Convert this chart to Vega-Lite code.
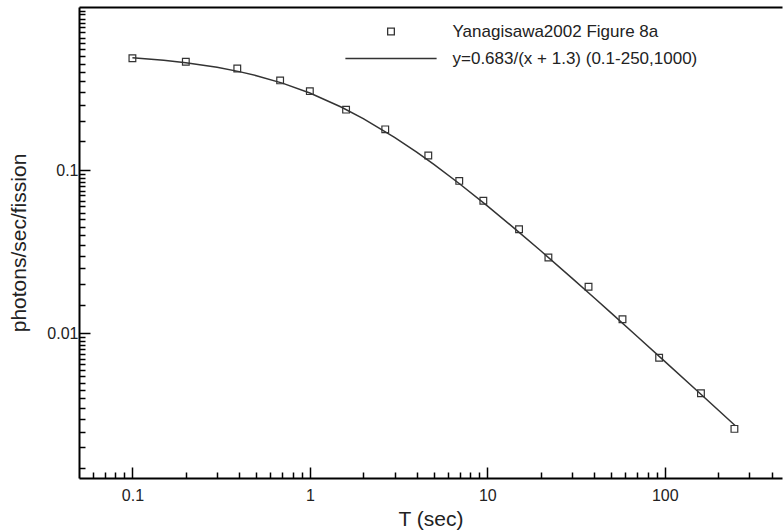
{
  "$schema": "https://vega.github.io/schema/vega-lite/v6.json",
  "width": 703,
  "height": 471,
  "autosize": {"type": "none"},
  "padding": {"left": 79, "top": 7, "right": 1, "bottom": 53},
  "background": "white",
  "config": {
    "view": {"stroke": null},
    "font": "Liberation Sans",
    "axis": {
      "grid": false,
      "domainColor": "black",
      "domainWidth": 2,
      "tickColor": "black",
      "tickWidth": 1.5,
      "labelFont": "Liberation Sans",
      "labelFontSize": 16,
      "labelColor": "#222",
      "titleFont": "Liberation Sans",
      "titleFontSize": 21,
      "titleFontWeight": "normal",
      "titleColor": "#222",
      "labelOverlap": false,
      "labelFlush": false
    }
  },
  "datasets": {
    "points": [
      {"T": 0.1, "y": 0.485, "series": "Yanagisawa2002 Figure 8a"},
      {"T": 0.2, "y": 0.462, "series": "Yanagisawa2002 Figure 8a"},
      {"T": 0.39, "y": 0.42, "series": "Yanagisawa2002 Figure 8a"},
      {"T": 0.68, "y": 0.355, "series": "Yanagisawa2002 Figure 8a"},
      {"T": 1.0, "y": 0.305, "series": "Yanagisawa2002 Figure 8a"},
      {"T": 1.6, "y": 0.235, "series": "Yanagisawa2002 Figure 8a"},
      {"T": 2.66, "y": 0.178, "series": "Yanagisawa2002 Figure 8a"},
      {"T": 4.65, "y": 0.123, "series": "Yanagisawa2002 Figure 8a"},
      {"T": 6.95, "y": 0.086, "series": "Yanagisawa2002 Figure 8a"},
      {"T": 9.5, "y": 0.065, "series": "Yanagisawa2002 Figure 8a"},
      {"T": 15.1, "y": 0.0435, "series": "Yanagisawa2002 Figure 8a"},
      {"T": 22.1, "y": 0.0292, "series": "Yanagisawa2002 Figure 8a"},
      {"T": 37.2, "y": 0.0193, "series": "Yanagisawa2002 Figure 8a"},
      {"T": 57.8, "y": 0.0122, "series": "Yanagisawa2002 Figure 8a"},
      {"T": 93, "y": 0.0071, "series": "Yanagisawa2002 Figure 8a"},
      {"T": 160, "y": 0.0043, "series": "Yanagisawa2002 Figure 8a"},
      {"T": 247, "y": 0.0026, "series": "Yanagisawa2002 Figure 8a"}
    ],
    "curve": [
      {"T": 0.1, "y": 0.48786},
      {"T": 0.15, "y": 0.47103},
      {"T": 0.2, "y": 0.45533},
      {"T": 0.3, "y": 0.42688},
      {"T": 0.4, "y": 0.40176},
      {"T": 0.5, "y": 0.37944},
      {"T": 0.7, "y": 0.3415},
      {"T": 1, "y": 0.29696},
      {"T": 1.5, "y": 0.24393},
      {"T": 2, "y": 0.20697},
      {"T": 3, "y": 0.15884},
      {"T": 4, "y": 0.12887},
      {"T": 5, "y": 0.10841},
      {"T": 7, "y": 0.08229},
      {"T": 10, "y": 0.06044},
      {"T": 15, "y": 0.0419},
      {"T": 20, "y": 0.03207},
      {"T": 30, "y": 0.02182},
      {"T": 40, "y": 0.01654},
      {"T": 50, "y": 0.01331},
      {"T": 70, "y": 0.00958},
      {"T": 100, "y": 0.006742},
      {"T": 150, "y": 0.004514},
      {"T": 200, "y": 0.003393},
      {"T": 250, "y": 0.002718}
    ]
  },
  "layer": [
    {
      "data": {"name": "curve"},
      "mark": {"type": "line", "color": "#333", "strokeWidth": 1.5, "clip": true},
      "encoding": {
        "x": {
          "field": "T", "type": "quantitative",
          "scale": {"type": "log", "domain": [0.05, 458], "nice": false},
          "axis": {"orient": "top", "labels": false, "ticks": false, "domain": true, "title": null}
        },
        "y": {
          "field": "y", "type": "quantitative",
          "scale": {"type": "log", "domain": [0.0013, 1], "nice": false},
          "axis": {"title": "photons/sec/fission"}
        }
      }
    },
    {
      "data": {"name": "points"},
      "mark": {"type": "point", "filled": false, "color": "#333", "strokeWidth": 1.2, "size": 45, "opacity": 1},
      "encoding": {
        "x": {
          "field": "T", "type": "quantitative",
          "scale": {"type": "log", "domain": [0.05, 458], "nice": false},
          "axis": {
            "orient": "bottom",
            "title": "T (sec)",
            "values": [0.06, 0.07, 0.08, 0.09, 0.1, 0.2, 0.3, 0.4, 0.5, 0.6, 0.7, 0.8, 0.9, 1, 2, 3, 4, 5, 6, 7, 8, 9, 10, 20, 30, 40, 50, 60, 70, 80, 90, 100, 200, 300, 400],
            "labelExpr": "indexof([0.1, 1, 10, 100], datum.value) >= 0 ? format(datum.value, '~g') : ''",
            "tickSize": {"condition": {"test": "indexof([0.1, 1, 10, 100], datum.value) >= 0", "value": -11}, "value": -6},
            "labelPadding": 20,
            "titlePadding": 0
          }
        },
        "y": {
          "field": "y", "type": "quantitative",
          "scale": {"type": "log", "domain": [0.0013, 1], "nice": false},
          "axis": {
            "title": "photons/sec/fission",
            "values": [0.0015, 0.002, 0.0025, 0.003, 0.0035, 0.004, 0.0045, 0.005, 0.0055, 0.006, 0.0065, 0.007, 0.0075, 0.008, 0.0085, 0.009, 0.0095, 0.01, 0.015, 0.02, 0.025, 0.03, 0.035, 0.04, 0.045, 0.05, 0.055, 0.06, 0.065, 0.07, 0.075, 0.08, 0.085, 0.09, 0.095, 0.1, 0.15, 0.2, 0.25, 0.3, 0.35, 0.4, 0.45, 0.5, 0.55, 0.6, 0.65, 0.7, 0.75, 0.8, 0.85, 0.9, 0.95],
            "labelExpr": "indexof([0.01, 0.1], datum.value) >= 0 ? format(datum.value, '~g') : ''",
            "tickSize": {"condition": {"test": "indexof([0.01, 0.1], datum.value) >= 0", "value": -11}, "value": -6},
            "labelPadding": 12,
            "titlePadding": 17
          }
        },
        "shape": {
          "field": "series", "type": "nominal",
          "scale": {
            "domain": ["Yanagisawa2002 Figure 8a", "y=0.683/(x + 1.3) (0.1-250,1000)"],
            "range": ["square", "M-13.6,0H13.6"]
          },
          "legend": {
            "title": null,
            "orient": "none",
            "legendX": 303.5,
            "legendY": 16,
            "labelFont": "Liberation Sans",
            "labelFontSize": 17,
            "labelColor": "#222",
            "labelLimit": 400,
            "labelOffset": 53,
            "rowPadding": 9,
            "symbolSize": 45,
            "symbolStrokeWidth": 1.3,
            "symbolStrokeColor": "#333",
            "symbolFillColor": "transparent"
          }
        }
      }
    }
  ],
  "resolve": {"axis": {"x": "independent"}}
}
